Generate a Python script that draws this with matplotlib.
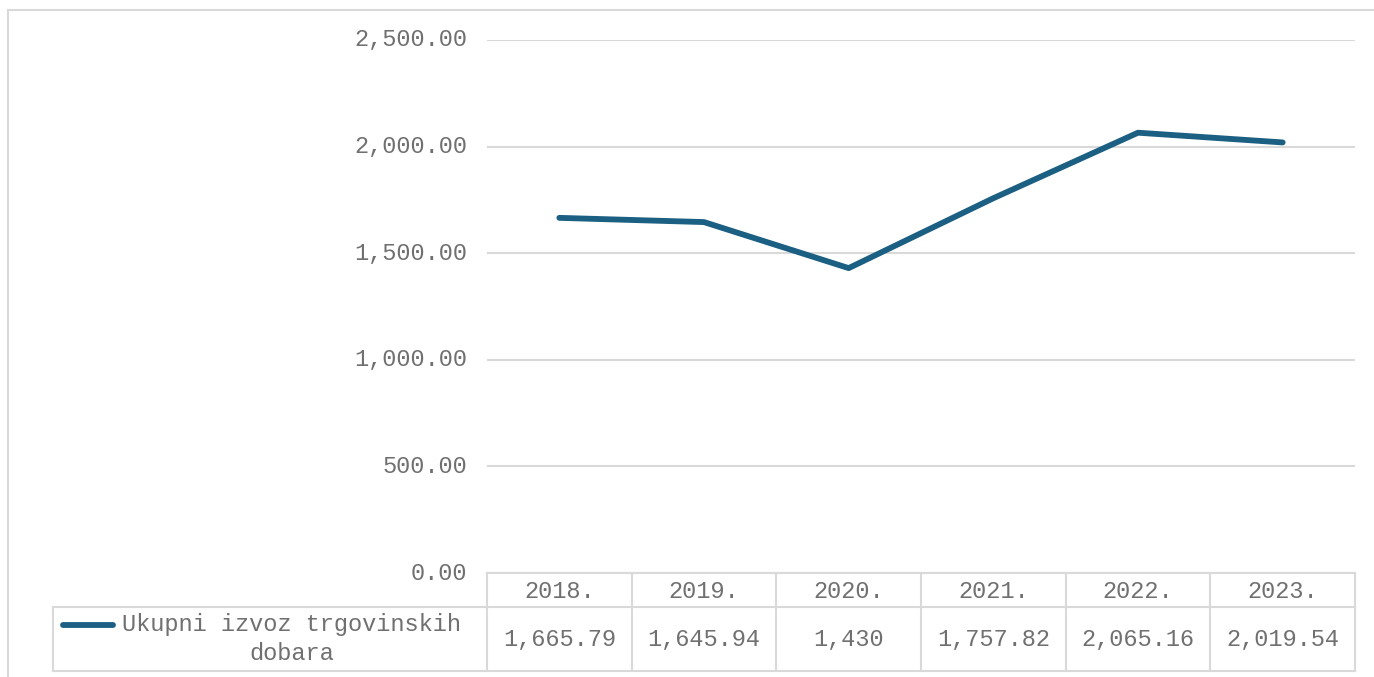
import matplotlib
matplotlib.use("Agg")
import matplotlib.pyplot as plt
from matplotlib.lines import Line2D

years = ["2018.", "2019.", "2020.", "2021.", "2022.", "2023."]
izvoz = [1665.79, 1645.94, 1430, 1757.82, 2065.16, 2019.54]
series_name = "Ukupni izvoz trgovinskih\ndobara"

W, H = 1374, 677
LINE_COLOR = "#1b5f82"
GRID = "#d9d9d9"
TXT = "#707070"
FONT = "Liberation Mono"
FS = 17

plt.rcParams["font.family"] = [FONT, "DejaVu Sans"]


def fx(x):
    return x / W


def fy(y):
    return 1 - y / H


fig = plt.figure(figsize=(W / 100, H / 100), dpi=100)
fig.patch.set_facecolor("white")

# plot area
left, right, top, bottom = 487, 1355, 40, 573
ax = fig.add_axes([fx(left), fy(bottom), fx(right - left), fy(top) - fy(bottom)])
xs = list(range(len(years)))
ax.plot(xs, izvoz, color=LINE_COLOR, linewidth=4.2, solid_capstyle="round",
        solid_joinstyle="round", zorder=3)
ax.set_xlim(-0.5, len(years) - 0.5)
ax.set_ylim(0, 2500)
ax.set_yticks([0, 500, 1000, 1500, 2000, 2500])
ax.set_yticklabels([f"{v:,.2f}" for v in ax.get_yticks()], fontsize=FS, color=TXT,
                   va="center")
for lbl in ax.get_yticklabels():
    lbl.set_y(lbl.get_position()[1])
ax.tick_params(axis="y", length=0, pad=14)
ax.set_xticks([])
ax.grid(axis="y", color=GRID, linewidth=1.5, zorder=0)
for s in ax.spines.values():
    s.set_visible(False)


def hline(x0, x1, y):
    fig.add_artist(Line2D([fx(x0), fx(x1)], [fy(y), fy(y)], color=GRID, linewidth=1.5))


def vline(x, y0, y1):
    fig.add_artist(Line2D([fx(x), fx(x)], [fy(y0), fy(y1)], color=GRID, linewidth=1.5))


# outer chart frame
hline(8, W, 10)
vline(8, 10, H)

# data table
row1, row2, row3 = 573, 607, 671
leg_left = 53
cell_w = (right - left) / len(years)
hline(left, right, row1)
hline(leg_left, right, row2)
hline(leg_left, right, row3)
vline(leg_left, row2, row3)
for i in range(len(years) + 1):
    vline(left + i * cell_w, row1, row3)

for i, (yr, v) in enumerate(zip(years, izvoz)):
    cx = left + (i + 0.5) * cell_w
    fig.text(fx(cx), fy((row1 + row2) / 2 + 1), yr, ha="center", va="center",
             fontsize=FS, color=TXT)
    fig.text(fx(cx), fy((row2 + row3) / 2), f"{v:,}", ha="center", va="center",
             fontsize=FS, color=TXT)

# legend key in the table
fig.add_artist(Line2D([fx(63), fx(113)], [fy(625), fy(625)], color=LINE_COLOR,
                      linewidth=4.2, solid_capstyle="round"))
fig.text(fx(292), fy((row2 + row3) / 2), series_name, ha="center", va="center",
         multialignment="center", fontsize=FS, color=TXT, linespacing=1.3)

fig.savefig("out.png", dpi=100, facecolor="white")
